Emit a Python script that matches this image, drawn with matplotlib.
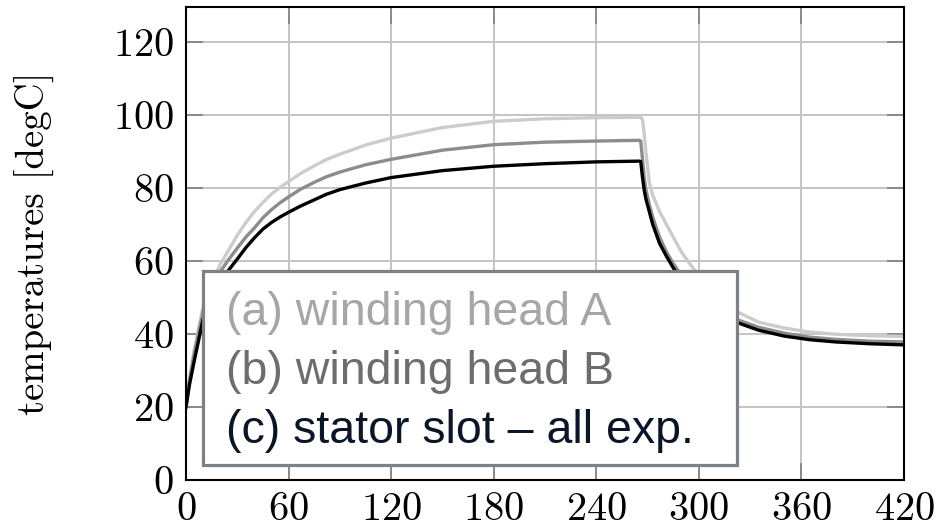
import numpy as np
import matplotlib
matplotlib.use("Agg")
from matplotlib import pyplot as plt
from matplotlib.patches import Rectangle

# time [min] and temperatures [degC]
time = [0, 2, 5, 10, 15, 20, 25, 30, 35, 40, 45, 50, 55, 60, 67, 75, 82, 90, 105, 120,
        150, 180, 210, 240,
        265, 266, 267, 268, 269, 271, 273, 277, 281, 285, 290, 295, 300, 310, 320,
        335, 350, 365, 380, 400, 420]
head_a = [20, 28, 36, 47.5, 54, 59, 63, 67, 70.5, 73.5, 76, 78.3, 80.1, 81.7, 83.9, 86, 87.7, 89.2, 91.7, 93.6,
          96.5, 98.2, 98.9, 99.2,
          99.3, 99.2, 98.8, 95, 90, 81.5, 78, 73.5, 70, 66.5, 62.3, 59, 56, 50.8, 46.6,
          43.2, 41.6, 40.5, 39.9, 39.5, 39.3]
head_b = [20, 27, 35, 46, 52, 57, 60.4, 63.5, 66.5, 69, 71.8, 74, 75.9, 77.5, 79.6, 81.5, 83, 84.3, 86.3, 87.8,
          90.3, 91.8, 92.5, 92.8,
          93.0, 92.8, 88, 83, 79.5, 75.5, 72, 66.5, 62.5, 59.3, 55.8, 52.8, 50.5, 47, 44.3,
          41.8, 40.2, 39.1, 38.5, 38, 37.8]
slot_c = [20, 26, 33, 44, 49.5, 54, 57.5, 60.5, 63.6, 66.3, 68.7, 70.5, 72, 73.3, 75, 76.7, 78.2, 79.5, 81.3, 82.8,
          84.7, 85.9, 86.6, 87.1,
          87.3, 87.2, 83, 79.5, 77, 73.5, 70, 64.8, 61.3, 58.1, 54.5, 51.5, 49.3, 46, 43.5,
          41, 39.4, 38.4, 37.8, 37.3, 37]

labels = ["(a) winding head A", "(b) winding head B", "(c) stator slot \u2013 all exp."]
line_colors = ["#cccccc", "#8c8c8c", "#000000"]
text_colors = ["#a6a6a6", "#6d6d70", "#0b1528"]

plt.rcParams['font.family'] = 'cmr10'
plt.rcParams['axes.formatter.use_mathtext'] = True

fig = plt.figure(figsize=(9.49, 5.27), dpi=100)
ax = fig.add_axes([186/949, 1 - 480/527, 718/949, 473/527])

for y, c in zip([head_a, head_b, slot_c], line_colors):
    ax.plot(time, y, color=c, lw=2.4, solid_joinstyle='round', zorder=3)

ax.set_xlim(0, 420)
ax.set_ylim(0, 129.5)
ax.set_xticks(np.arange(0, 421, 60))
ax.set_yticks(np.arange(0, 121, 20))
ax.grid(True, color='#c4c4c4', lw=1.4, zorder=0)
ax.set_axisbelow(True)
ax.tick_params(direction='in', length=12, width=1.4, color='#8a8a8a',
               top=True, right=True, labelsize=29, pad=9)
for s in ax.spines.values():
    s.set_linewidth(1.5)
    s.set_color('black')
    s.set_zorder(5)

ax.set_ylabel("temperatures [degC]", fontsize=28)
ax.yaxis.set_label_coords(-0.182, 0.5)

# legend box drawn as an overlay (no handles, coloured labels)
x0, y0 = (203 - 186) / 718, (480 - 465) / 473
w, h = (737 - 203) / 718, (465 - 271) / 473
ax.add_patch(Rectangle((x0 + 0.003, y0 - 0.005), w, h, transform=ax.transAxes,
                       facecolor='#b0b0b0', edgecolor='none', zorder=6, clip_on=False))
ax.add_patch(Rectangle((x0, y0), w, h, transform=ax.transAxes, facecolor='white',
                       edgecolor='#7b8188', lw=2.3, zorder=7, clip_on=False))
baselines = [325, 384, 443]
for lab, c, b in zip(labels, text_colors, baselines):
    ax.text((226 - 186) / 718, (480 - b) / 473, lab, transform=ax.transAxes,
            color=c, fontsize=33.5, family='Liberation Sans', va='baseline', ha='left',
            zorder=8)

fig.savefig("out.png", dpi=100)
